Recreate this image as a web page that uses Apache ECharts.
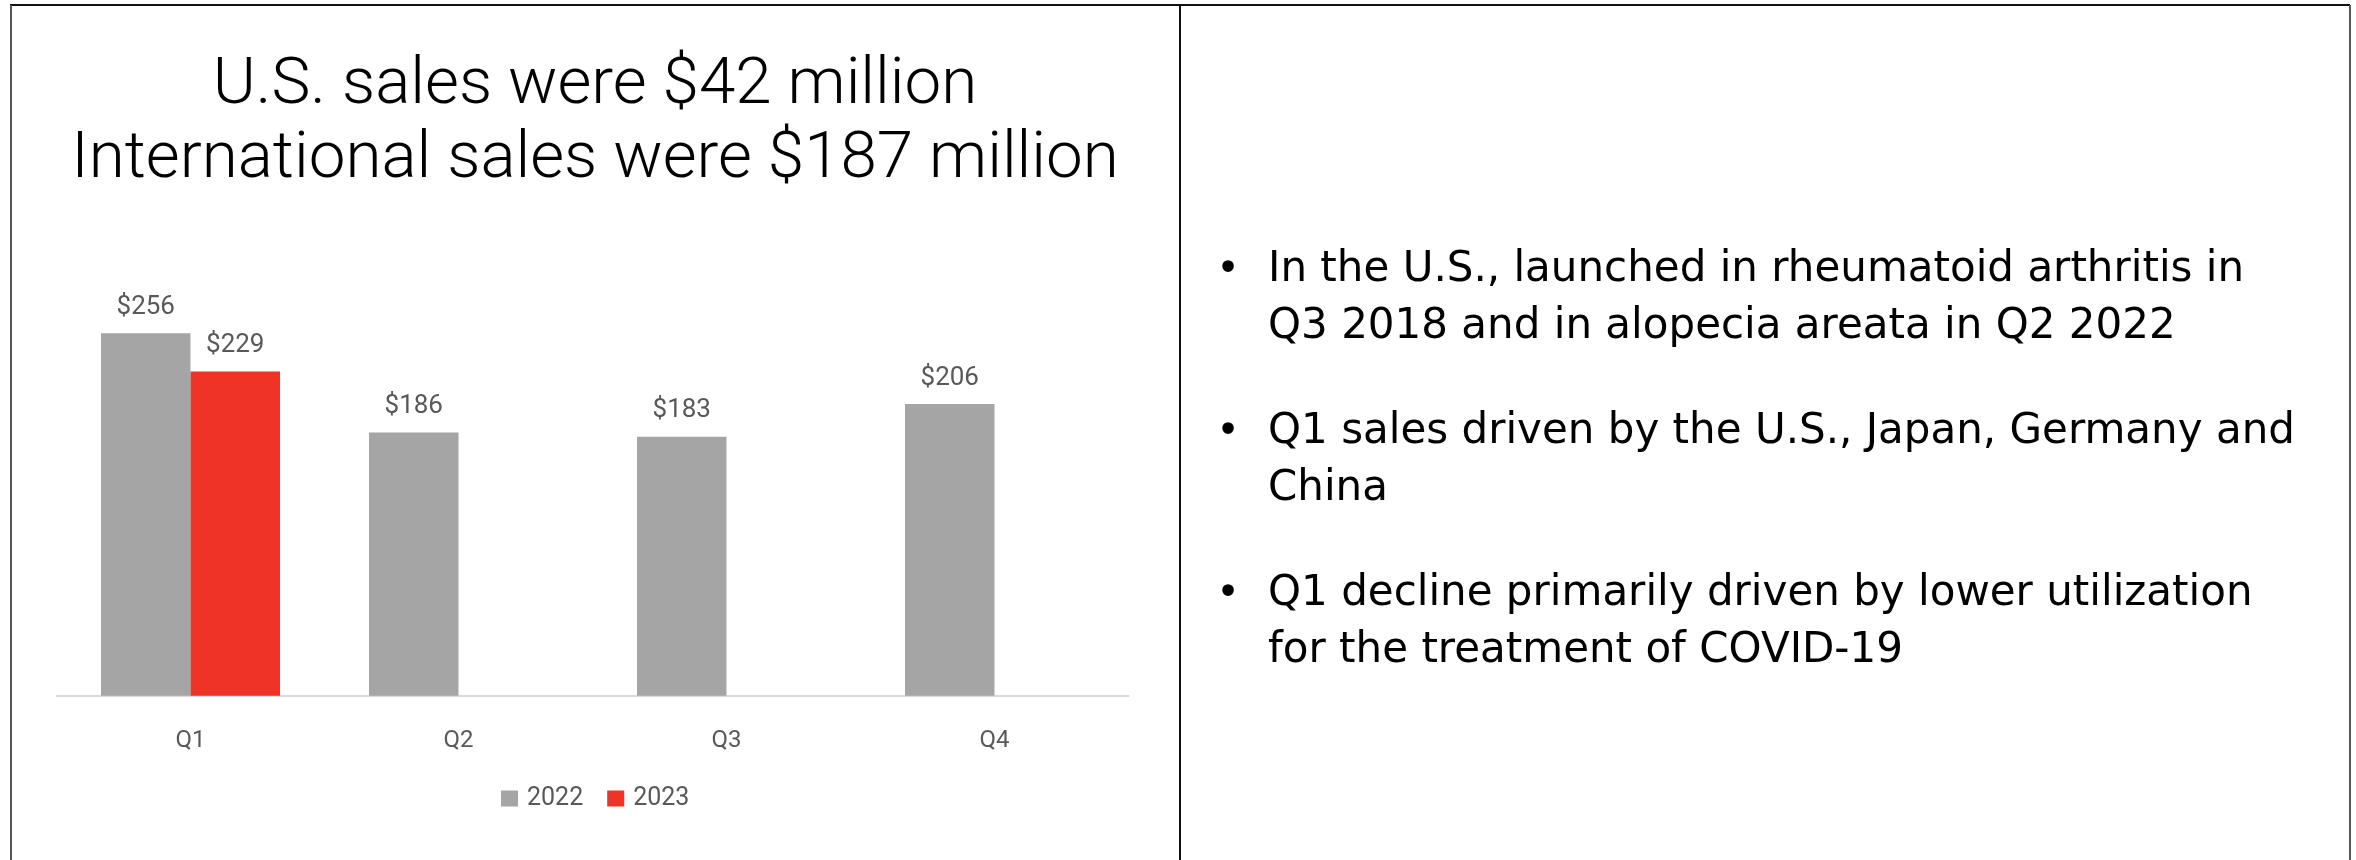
<!doctype html>
<html>
<head>
  <meta charset="utf-8">
  <title>Sales by quarter</title>
  <script src="https://cdn.jsdelivr.net/npm/echarts@6/dist/echarts.min.js"></script>
  <style>
    html, body { margin: 0; padding: 0; background: #fff; }
    #main { width: 2356px; height: 860px; }
  </style>
</head>
<body>
  <div id="main"></div>
  <script>
  // quarterly sales, $ millions
  var quarters = ['Q1', 'Q2', 'Q3', 'Q4'];
  var sales2022 = [256, 186, 183, 206];
  var sales2023 = [229, null, null, null];
  var seriesNames = ['2022', '2023'];

  var titleLines = ['U.S. sales were $42 million', 'International sales were $187 million'];
  var bullets = [
    ['In the U.S., launched in rheumatoid arthritis in', 'Q3 2018 and in alopecia areata in Q2 2022'],
    ['Q1 sales driven by the U.S., Japan, Germany and', 'China'],
    ['Q1 decline primarily driven by lower utilization', 'for the treatment of COVID-19']
  ];

  var FONT = 'Roboto, "Liberation Sans", sans-serif';
  var BODY_FONT = '"DejaVu Sans", Roboto, sans-serif';
  var grey = '#a5a5a5';
  var red = '#ee3427';
  var textGrey = '#595959';

  var graphics = [
    // panel borders
    { type: 'line', shape: { x1: 10, y1: 5, x2: 2350, y2: 5 }, style: { stroke: '#111', lineWidth: 2 } },
    { type: 'line', shape: { x1: 11, y1: 5, x2: 11, y2: 860 }, style: { stroke: '#555', lineWidth: 2 } },
    { type: 'line', shape: { x1: 2350, y1: 5, x2: 2350, y2: 860 }, style: { stroke: '#555', lineWidth: 2 } },
    { type: 'line', shape: { x1: 1180, y1: 5, x2: 1180, y2: 860 }, style: { stroke: '#111', lineWidth: 2 } }
  ];

  bullets.forEach(function (lines, i) {
    var top = 242 + i * 162;
    graphics.push({
      type: 'text',
      style: { text: '\u2022', x: 1228, y: top, font: '40px ' + BODY_FONT, fill: '#000',
               textAlign: 'center', textVerticalAlign: 'top', lineHeight: 57 }
    });
    graphics.push({
      type: 'text',
      style: { text: lines.join('\n'), x: 1268, y: top, font: '42px ' + BODY_FONT, fill: '#000',
               textAlign: 'left', textVerticalAlign: 'top', lineHeight: 57 }
    });
  });

  var option = {
    backgroundColor: '#fff',
    animation: false,
    title: {
      text: titleLines.join('\n'),
      left: 595,
      top: 50,
      textAlign: 'center',
      padding: 0,
      textStyle: { fontFamily: FONT, fontSize: 65.5, fontWeight: 300, color: '#000', lineHeight: 74 }
    },
    legend: {
      data: seriesNames,
      left: 501,
      top: 786,
      padding: 0,
      itemWidth: 17,
      itemHeight: 16,
      itemGap: 24,
      icon: 'rect',
      textStyle: { fontFamily: FONT, fontSize: 25, color: textGrey, padding: [0, 0, 0, 4] }
    },
    grid: { left: 56.5, right: 1227.5, top: 271, bottom: 164.3 },
    xAxis: {
      type: 'category',
      data: quarters,
      axisLine: { lineStyle: { color: '#d9d9d9', width: 2 } },
      axisTick: { show: false },
      axisLabel: { fontFamily: FONT, fontSize: 24, color: textGrey, margin: 33 }
    },
    yAxis: {
      type: 'value',
      min: 0,
      max: 300,
      show: false,
      splitLine: { show: false }
    },
    series: [
      {
        name: seriesNames[0],
        type: 'bar',
        data: sales2022,
        barWidth: 89.5,
        barGap: '0%',
        itemStyle: { color: grey },
        label: {
          show: true, position: 'top', distance: 13,
          fontFamily: FONT, fontSize: 26, color: textGrey,
          formatter: function (p) { return '$' + p.value; }
        }
      },
      {
        name: seriesNames[1],
        type: 'bar',
        data: sales2023,
        barWidth: 89.5,
        barGap: '0%',
        itemStyle: { color: red },
        label: {
          show: true, position: 'top', distance: 13,
          fontFamily: FONT, fontSize: 26, color: textGrey,
          formatter: function (p) { return '$' + p.value; }
        }
      }
    ],
    graphic: graphics
  };

  var myChart = echarts.init(document.getElementById('main'));
  myChart.setOption(option);
  </script>
</body>
</html>
